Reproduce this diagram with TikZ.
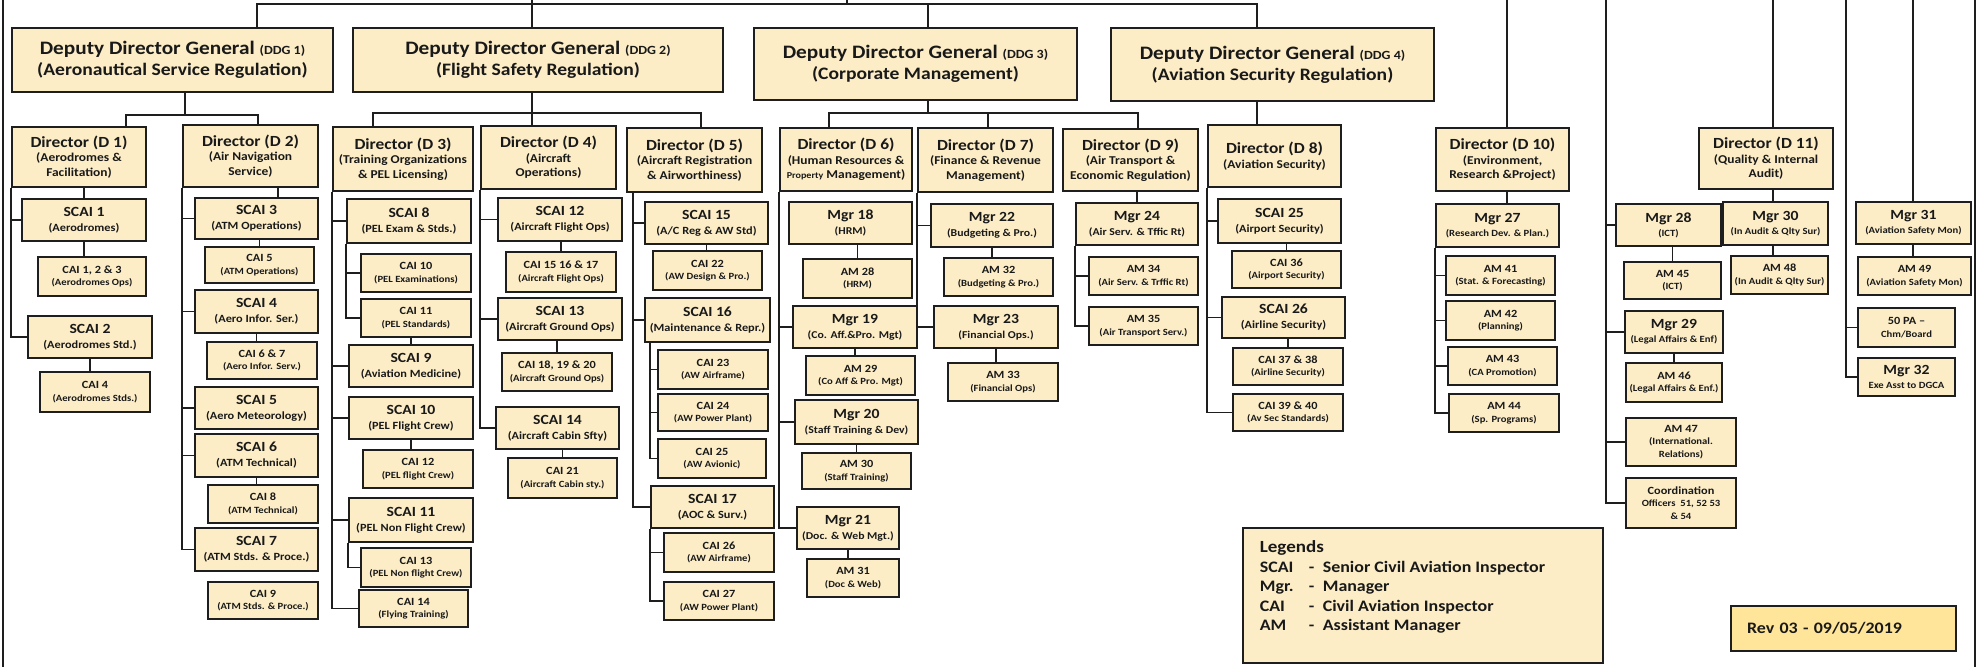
\documentclass[tikz,border=0pt]{standalone}
\usepackage{fontspec}
\setmainfont{Carlito}[FakeStretch=1.12]

\definecolor{boxfill}{RGB}{252,237,199}
\definecolor{revfill}{RGB}{255,229,153}
\definecolor{linecol}{RGB}{30,30,30}

\newcommand{\ddgtag}[1]{{\fontsize{12.5}{14}\selectfont #1}}
\newcommand{\ddgsub}[1]{{\fontsize{17.5}{21}\selectfont #1}}
\newcommand{\hdL}[1]{{\fontsize{15.5}{18}\selectfont #1}}
\newcommand{\hdM}[1]{{\fontsize{14}{16}\selectfont #1}}
\newcommand{\hdS}[1]{{\fontsize{11}{12}\selectfont #1}}

\begin{document}
\begin{tikzpicture}[x=1pt, y=-1pt,
  every node/.style={draw=linecol, fill=boxfill, line width=1.7pt, rectangle, align=center, inner sep=1pt, text=black!90},
  sz/.style 2 args={minimum width=#1pt, minimum height=#2pt},
  ddg/.style={font=\fontsize{19}{21}\selectfont\bfseries},
  dir/.style={font=\fontsize{12}{14.5}\selectfont\bfseries},
  scai/.style={font=\fontsize{11}{15}\selectfont\bfseries},
  mgr/.style={font=\fontsize{10.5}{15}\selectfont\bfseries},
  mgrs/.style={font=\fontsize{9.5}{14}\selectfont\bfseries},
  cai/.style={font=\fontsize{9.5}{12.5}\selectfont\bfseries},
  link/.style={draw=linecol, line width=1.7pt}]
\useasboundingbox (0,0) rectangle (1977,667);

% Deputy Directors General
\node[ddg, sz={321}{64}] (ddg1) at (172.5,60) {Deputy Director General \ddgtag{(DDG 1)}\\\ddgsub{(Aeronautical Service Regulation)}};
\node[ddg, sz={370}{64}] (ddg2) at (538,60) {Deputy Director General \ddgtag{(DDG 2)}\\\ddgsub{(Flight Safety Regulation)}};
\node[ddg, sz={323}{72}] (ddg3) at (915.5,64) {Deputy Director General \ddgtag{(DDG 3)}\\\ddgsub{(Corporate Management)}};
\node[ddg, sz={323}{73}] (ddg4) at (1272.5,64.5) {Deputy Director General \ddgtag{(DDG 4)}\\\ddgsub{(Aviation Security Regulation)}};

% Directors
\node[dir, sz={134}{60}] (d1) at (79,157) {\hdL{Director (D 1)}\\(Aerodromes \&\\Facilitation)};
\node[dir, sz={135}{62}] (d2) at (250.5,156) {\hdL{Director (D 2)}\\(Air Navigation\\Service)};
\node[dir, sz={140}{64}] (d3) at (403,159) {\hdL{Director (D 3)}\\(Training Organizations\\\& PEL Licensing)};
\node[dir, sz={135}{63}] (d4) at (548.5,157.5) {\hdL{Director (D 4)}\\(Aircraft\\Operations)};
\node[dir, sz={135}{64}] (d5) at (694.5,160) {\hdL{Director (D 5)}\\(Aircraft Registration\\\& Airworthiness)};
\node[dir, sz={132}{63}] (d6) at (846,159.5) {\hdL{Director (D 6)}\\(Human Resources \&\\{\fontsize{9}{11}\selectfont Property} Management)};
\node[dir, sz={135}{64}] (d7) at (985.5,160) {\hdL{Director (D 7)}\\(Finance \& Revenue\\Management)};
\node[dir, sz={135}{62}] (d9) at (1130.5,160) {\hdL{Director (D 9)}\\(Air Transport \&\\Economic Regulation)};
\node[dir, sz={133}{62}] (d8) at (1274.5,156) {\hdL{Director (D 8)}\\(Aviation Security)};
\node[dir, sz={133}{63}] (d10) at (1502.5,159.5) {\hdL{Director (D 10)}\\(Environment,\\Research \&Project)};
\node[dir, sz={134}{61}] (d11) at (1766,158.5) {\hdL{Director (D 11)}\\(Quality \& Internal\\Audit)};

% D1 units
\node[scai, sz={124}{42}] (scai1) at (84,220) {\hdM{SCAI 1}\\(Aerodromes)};
\node[cai, sz={108}{39}] (cai123) at (92,276.5) {\hdS{CAI 1, 2 \& 3}\\(Aerodromes Ops)};
\node[scai, sz={124}{42}] (scai2) at (90,337) {\hdM{SCAI 2}\\(Aerodromes Std.)};
\node[cai, sz={110}{40}] (cai4) at (95,392) {\hdS{CAI 4}\\(Aerodromes Stds.)};

% D2 units
\node[scai, sz={123}{41}] (scai3) at (256.5,218.5) {\hdM{SCAI 3}\\(ATM Operations)};
\node[cai, sz={109}{36}] (cai5) at (259.5,265) {\hdS{CAI 5}\\(ATM Operations)};
\node[scai, sz={123}{43}] (scai4) at (256.5,311.5) {\hdM{SCAI 4}\\(Aero Infor. Ser.)};
\node[cai, sz={110}{37}] (cai67) at (262,360.5) {\hdS{CAI 6 \& 7}\\(Aero Infor. Serv.)};
\node[scai, sz={123}{42}] (scai5) at (256.5,408) {\hdM{SCAI 5}\\(Aero Meteorology)};
\node[scai, sz={123}{43}] (scai6) at (256.5,455.5) {\hdM{SCAI 6}\\(ATM Technical)};
\node[cai, sz={110}{38}] (cai8) at (263,504) {\hdS{CAI 8}\\(ATM Technical)};
\node[scai, sz={123}{43}] (scai7) at (256.5,549.5) {\hdM{SCAI 7}\\(ATM Stds. \& Proce.)};
\node[cai, sz={110}{37}] (cai9) at (263,600.5) {\hdS{CAI 9}\\(ATM Stds. \& Proce.)};

% D3 units
\node[scai, sz={124}{44}] (scai8) at (409,221) {\hdM{SCAI 8}\\(PEL Exam \& Stds.)};
\node[cai, sz={110}{38}] (cai10) at (416,273) {\hdS{CAI 10}\\(PEL Examinations)};
\node[cai, sz={110}{38}] (cai11) at (416,318) {\hdS{CAI 11}\\(PEL Standards)};
\node[scai, sz={124}{42}] (scai9) at (411,366) {\hdM{SCAI 9}\\(Aviation Medicine)};
\node[scai, sz={124}{42}] (scai10) at (411,418) {\hdM{SCAI 10}\\(PEL Flight Crew)};
\node[cai, sz={110}{38}] (cai12) at (418,469) {\hdS{CAI 12}\\(PEL flight Crew)};
\node[scai, sz={124}{44}] (scai11) at (411,520) {\hdM{SCAI 11}\\(PEL Non Flight Crew)};
\node[cai, sz={110}{39}] (cai13) at (416,567.5) {\hdS{CAI 13}\\(PEL Non flight Crew)};
\node[cai, sz={109}{37}] (cai14) at (413.5,608.5) {\hdS{CAI 14}\\(Flying Training)};

% D4 units
\node[scai, sz={124}{43}] (scai12) at (560,219.5) {\hdM{SCAI 12}\\(Aircraft Flight Ops)};
\node[cai, sz={110}{40}] (cai151617) at (561,272) {\hdS{CAI 15 16 \& 17}\\(Aircraft Flight Ops)};
\node[scai, sz={124}{42}] (scai13) at (560,319) {\hdM{SCAI 13}\\(Aircraft Ground Ops)};
\node[cai, sz={110}{38}] (cai181920) at (557,372) {\hdS{CAI 18, 19 \& 20}\\(Aircraft Ground Ops)};
\node[scai, sz={123}{42}] (scai14) at (557.5,428) {\hdM{SCAI 14}\\(Aircraft Cabin Sfty)};
\node[cai, sz={109}{40}] (cai21) at (562.5,478) {\hdS{CAI 21}\\(Aircraft Cabin sty.)};

% D5 units
\node[scai, sz={123}{42}] (scai15) at (706.5,223) {\hdM{SCAI 15}\\(A/C Reg \& AW Std)};
\node[cai, sz={109}{39}] (cai22) at (707.5,270.5) {\hdS{CAI 22}\\(AW Design \& Pro.)};
\node[scai, sz={125}{44}] (scai16) at (707.5,320) {\hdM{SCAI 16}\\(Maintenance \& Repr.)};
\node[cai, sz={110}{39}] (cai23) at (713,369.5) {\hdS{CAI 23}\\(AW Airframe)};
\node[cai, sz={110}{37}] (cai24) at (713,412.5) {\hdS{CAI 24}\\(AW Power Plant)};
\node[cai, sz={108}{39}] (cai25) at (712,458.5) {\hdS{CAI 25}\\(AW Avionic)};
\node[scai, sz={123}{42}] (scai17) at (712.5,507) {\hdM{SCAI 17}\\(AOC \& Surv.)};
\node[cai, sz={110}{39}] (cai26) at (719,552.5) {\hdS{CAI 26}\\(AW Airframe)};
\node[cai, sz={110}{38}] (cai27) at (719,601) {\hdS{CAI 27}\\(AW Power Plant)};

% D6 units
\node[mgr, sz={123}{42}] (mgr18) at (850.5,223) {\hdM{Mgr 18}\\(HRM)};
\node[cai, sz={109}{39}] (am28) at (857.5,278.5) {\hdS{AM 28}\\(HRM)};
\node[mgr, sz={124}{42}] (mgr19) at (855,327) {\hdM{Mgr 19}\\(Co. Aff.\&Pro. Mgt)};
\node[cai, sz={109}{39}] (am29) at (860.5,375.5) {\hdS{AM 29}\\(Co Aff \& Pro. Mgt)};
\node[mgr, sz={123}{44}] (mgr20) at (856.5,422) {\hdM{Mgr 20}\\(Staff Training \& Dev)};
\node[cai, sz={109}{36}] (am30) at (856.5,471) {\hdS{AM 30}\\(Staff Training)};
\node[mgr, sz={102}{42}] (mgr21) at (848,528) {\hdM{Mgr 21}\\(Doc. \& Web Mgt.)};
\node[cai, sz={92}{38}] (am31) at (853,578) {\hdS{AM 31}\\(Doc \& Web)};

% D7 units
\node[mgr, sz={122}{43}] (mgr22) at (992,225.5) {\hdM{Mgr 22}\\(Budgeting \& Pro.)};
\node[cai, sz={109}{38}] (am32) at (998.5,277) {\hdS{AM 32}\\(Budgeting \& Pro.)};
\node[mgr, sz={124}{42}] (mgr23) at (996,327) {\hdM{Mgr 23}\\(Financial Ops.)};
\node[cai, sz={110}{38}] (am33) at (1003,382) {\hdS{AM 33}\\(Financial Ops)};

% D9 units
\node[mgr, sz={122}{42}] (mgr24) at (1137,224) {\hdM{Mgr 24}\\(Air Serv. \& Tffic Rt)};
\node[cai, sz={109}{38}] (am34) at (1143.5,276) {\hdS{AM 34}\\(Air Serv. \& Trffic Rt)};
\node[cai, sz={109}{38}] (am35) at (1143.5,326) {\hdS{AM 35}\\(Air Transport Serv.)};

% D8 units
\node[scai, sz={123}{44}] (scai25) at (1279.5,221) {\hdM{SCAI 25}\\(Airport Security)};
\node[cai, sz={109}{37}] (cai36) at (1286.5,269.5) {\hdS{CAI 36}\\(Airport Security)};
\node[scai, sz={123}{41}] (scai26) at (1283.5,317.5) {\hdM{SCAI 26}\\(Airline Security)};
\node[cai, sz={110}{37}] (cai3738) at (1288,366.5) {\hdS{CAI 37 \& 38}\\(Airline Security)};
\node[cai, sz={110}{37}] (cai3940) at (1288,412.5) {\hdS{CAI 39 \& 40}\\(Av Sec Standards)};

% D10 units
\node[mgrs, sz={123}{43}] (mgr27) at (1497.5,225.5) {\hdM{Mgr 27}\\(Research Dev. \& Plan.)};
\node[cai, sz={109}{39}] (am41) at (1500.5,275.5) {\hdS{AM 41}\\(Stat. \& Forecasting)};
\node[cai, sz={109}{39}] (am42) at (1500.5,320.5) {\hdS{AM 42}\\(Planning)};
\node[cai, sz={109}{38}] (am43) at (1502.5,366) {\hdS{AM 43}\\(CA Promotion)};
\node[cai, sz={110}{38}] (am44) at (1504,413) {\hdS{AM 44}\\(Sp. Programs)};

% units under the DG
\node[mgrs, sz={105}{42}] (mgr28) at (1668.5,225) {\hdM{Mgr 28}\\(ICT)};
\node[cai, sz={97}{37}] (am45) at (1672.5,280.5) {\hdS{AM 45}\\(ICT)};
\node[mgrs, sz={98}{42}] (mgr29) at (1674,332) {\hdM{Mgr 29}\\(Legal Affairs \& Enf)};
\node[cai, sz={96}{39}] (am46) at (1674,382.5) {\hdS{AM 46}\\(Legal Affairs \& Enf.)};
\node[cai, sz={110}{48}] (am47) at (1681,442) {\hdS{AM 47}\\(International.\\Relations)};
\node[cai, sz={110}{50}] (coord) at (1681,503) {\hdS{Coordination}\\Officers\ \ 51, 52 53\\\& 54};

% D11 units
\node[mgrs, sz={105}{43}] (mgr30) at (1775.5,223.5) {\hdM{Mgr 30}\\(In Audit \& Qlty Sur)};
\node[cai, sz={97}{38}] (am48) at (1779.5,275) {\hdS{AM 48}\\(In Audit \& Qlty Sur)};
\node[mgrs, sz={115}{42}] (mgr31) at (1913.5,223) {\hdM{Mgr 31}\\(Aviation Safety Mon)};
\node[cai, sz={113}{38}] (am49) at (1914.5,276) {\hdS{AM 49}\\(Aviation Safety Mon)};
\node[cai, sz={97}{39}] (pa50) at (1906.5,327.5) {\hdS{50 PA --}\\Chm/Board};
\node[mgrs, sz={97}{38}] (mgr32) at (1906.5,377) {\hdM{Mgr 32}\\Exe Asst to DGCA};

% Legend and revision
\node[sz={360}{135}] (legend) at (1423,595.5) {};
\node[draw=none, fill=none, inner sep=0pt, anchor=north west, font=\fontsize{16}{19.5}\selectfont\bfseries] (legtext) at (1259,538) {%
  \begin{tabular}{@{}p{49pt}@{}p{14pt}@{}l@{}}
  \multicolumn{3}{@{}l}{\fontsize{17}{19.5}\selectfont Legends}\\
  SCAI & - & Senior Civil Aviation Inspector\\
  Mgr. & - & Manager\\
  CAI & - & Civil Aviation Inspector\\
  AM & - & Assistant Manager
  \end{tabular}};
\node[fill=revfill, sz={225}{45}, text width=193pt, inner xsep=16pt, align=left, font=\fontsize{16}{19}\selectfont\bfseries] (rev) at (1843.5,628.5) {Rev 03 - 09/05/2019};

% Connectors: top bar
\coordinate (dg) at (847,0);
\coordinate (t1) at (257,4);
\coordinate (t2) at (532,0);
\coordinate (t3) at (928,4);
\coordinate (t4) at (1257,4);
\draw[link] (dg) -- (dg |- t1);
\draw[link] (t1 |- ddg1.north) -- (t1) -- (t4) -- (t4 |- ddg4.north);
\draw[link] (t2) -- (t2 |- ddg2.north);
\draw[link] (t3) -- (t3 |- ddg3.north);

% lines from above the page
\coordinate (t10) at (1507,0);
\coordinate (t28) at (1606,0);
\coordinate (t11) at (1773,0);
\coordinate (t50) at (1846,0);
\coordinate (t31) at (1913,0);
\coordinate (fl) at (3,0);
\coordinate (flb) at (3,667);
\coordinate (fr) at (1975,0);
\coordinate (frb) at (1975,667);
\draw[link] (fl) -- (flb);
\draw[link] (fr) -- (frb);

% DDG to directors
\coordinate (j1) at (185,115);
\coordinate (k1) at (126,115);
\coordinate (k2) at (258,115);
\draw[link] (j1 |- ddg1.south) -- (j1);
\draw[link] (k1 |- d1.north) -- (k1) -- (k2) -- (k2 |- d2.north);
\coordinate (k3) at (373,113);
\coordinate (k4) at (532,113);
\coordinate (k5) at (701,113);
\draw[link] (k3 |- d3.north) -- (k3) -- (k5) -- (k5 |- d5.north);
\draw[link] (k4 |- ddg2.south) -- (k4 |- d4.north);
\coordinate (k6) at (829,113);
\coordinate (k7) at (988,113);
\coordinate (k8) at (928,113);
\coordinate (k9) at (1138,113);
\draw[link] (k8 |- ddg3.south) -- (k8);
\draw[link] (k6 |- d6.north) -- (k6) -- (k9) -- (k9 |- d9.north);
\draw[link] (k7) -- (k7 |- d7.north);
\draw[link] (t4 |- ddg4.south) -- (t4 |- d8.north);

% D1
\draw[link] (scai1.north) -- (scai1.north |- d1.south);
\draw[link] (d1.south west) |- (scai1.west);
\draw[link] (d1.south west) |- (scai2.west);
\draw[link] (scai1.south) -- (scai1.south |- cai123.north);
\draw[link] (scai2.south) -- (scai2.south |- cai4.north);

% D2
\coordinate (c2) at (278,190);
\draw[link] (c2 |- d2.south) -- (c2 |- scai3.north);
\draw[link] (d2.south west) |- (scai3.west);
\draw[link] (d2.south west) |- (scai4.west);
\draw[link] (d2.south west) |- (scai5.west);
\draw[link] (d2.south west) |- (scai6.west);
\draw[link] (d2.south west) |- (scai7.west);
\draw[link] (cai5.north) -- (cai5.north |- scai3.south);
\draw[link] (scai4.south) -- (scai4.south |- cai67.north);
\draw[link] (scai6.south) -- (scai6.south |- cai8.north);

% D3
\draw[link] (d3.south west) |- (scai8.west);
\draw[link] (d3.south west) |- (scai9.west);
\draw[link] (d3.south west) |- (scai10.west);
\draw[link] (d3.south west) |- (scai11.west);
\draw[link] (d3.south west) |- (cai14.west);
\draw[link] (scai8.south west) |- (cai10.west);
\draw[link] (scai8.south west) |- (cai11.west);
\draw[link] (scai9.north) -- (scai9.north |- cai11.south);
\draw[link] (scai10.south) -- (scai10.south |- cai12.north);
\draw[link] (scai11.south west) |- (cai13.west);

% D4
\draw[link] (d4.south west) |- (scai12.west);
\draw[link] (d4.south west) |- (scai13.west);
\draw[link] (d4.south west) |- (scai14.west);
\draw[link] (cai151617.north) -- (cai151617.north |- scai12.south);
\draw[link] (cai181920.north) -- (cai181920.north |- scai13.south);
\draw[link] (cai21.north) -- (cai21.north |- scai14.south);

% D5
\coordinate (c5) at (633,0);
\coordinate (c16) at (650,0);
\draw[link] (c5 |- d5.south) |- (scai15.west);
\draw[link] (c5 |- d5.south) |- (scai16.west);
\draw[link] (c5 |- d5.south) |- (scai17.west);
\draw[link] (scai15.south) -- (scai15.south |- cai22.north);
\draw[link] (c16 |- scai16.south) |- (cai23.west);
\draw[link] (c16 |- scai16.south) |- (cai24.west);
\draw[link] (c16 |- scai16.south) |- (cai25.west);
\draw[link] (scai17.south west) |- (cai26.west);
\draw[link] (scai17.south west) |- (cai27.west);

% D6
\draw[link] (d6.south west) |- (mgr19.west);
\draw[link] (d6.south west) |- (mgr20.west);
\draw[link] (d6.south west) |- (mgr21.west);
\draw[link] (am28.north) -- (am28.north |- mgr18.south);
\draw[link] (mgr19.south) -- (mgr19.south |- am29.north);
\draw[link] (mgr20.south) -- (mgr20.south |- am30.north);
\draw[link] (mgr21.south) -- (mgr21.south |- am31.north);

% D7
\draw[link] (d7.south west) |- (mgr22.west);
\draw[link] (d7.south west) |- (mgr23.west);
\draw[link] (mgr22.south) -- (mgr22.south |- am32.north);
\draw[link] (mgr23.south) -- (mgr23.south |- am33.north);

% D9
\draw[link] (mgr24.north) -- (mgr24.north |- d9.south);
\draw[link] (mgr24.south west) |- (am34.west);
\draw[link] (mgr24.south west) |- (am35.west);

% D8
\draw[link] (d8.south west) |- (scai25.west);
\draw[link] (d8.south west) |- (scai26.west);
\draw[link] (d8.south west) |- (cai3940.west);
\draw[link] (cai36.north) -- (cai36.north |- scai25.south);
\draw[link] (cai3738.north) -- (cai3738.north |- scai26.south);

% D10
\draw[link] (t10) -- (t10 |- d10.north);
\draw[link] (t10 |- d10.south) -- (t10 |- mgr27.north);
\draw[link] (mgr27.south west) |- (am41.west);
\draw[link] (mgr27.south west) |- (am42.west);
\draw[link] (mgr27.south west) |- (am43.west);
\draw[link] (mgr27.south west) |- (am44.west);

% managers under the DG
\draw[link] (t28) |- (mgr28.west);
\draw[link] (t28) |- (mgr29.west);
\draw[link] (t28) |- (am47.west);
\draw[link] (t28) |- (coord.west);
\draw[link] (am45.north) -- (am45.north |- mgr28.south);
\draw[link] (am46.north) -- (am46.north |- mgr29.south);

% D11
\draw[link] (t11) -- (t11 |- d11.north);
\draw[link] (t11 |- d11.south) -- (t11 |- mgr30.north);
\draw[link] (t11 |- mgr30.south) -- (t11 |- am48.north);
\draw[link] (t31) -- (t31 |- mgr31.north);
\draw[link] (t31 |- mgr31.south) -- (t31 |- am49.north);
\draw[link] (t50) |- (pa50.west);
\draw[link] (t50) |- (mgr32.west);

\end{tikzpicture}
\end{document}
